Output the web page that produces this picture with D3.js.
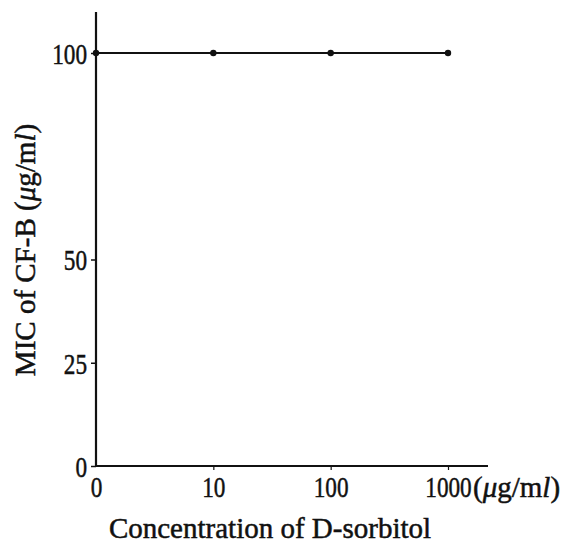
<!DOCTYPE html>
<html>
<head>
<meta charset="utf-8">
<script src="https://cdn.jsdelivr.net/npm/d3@7"></script>
<style>
  body { margin: 0; background: #fff; }
  svg { display: block; }
  text { font-family: "Liberation Serif", "DejaVu Serif", serif; fill: #111; }
</style>
</head>
<body>
<svg width="571" height="544"></svg>
<script>
// values
const concentrations = ['0', '10', '100', '1000'];   // D-sorbitol, ug/ml
const micValues = [100, 100, 100, 100];             // MIC of CF-B, ug/ml
const yTicks = [0, 25, 50, 100];

const svg = d3.select('svg');

const x0 = 96, x1 = 488;     // x axis extent
const yBase = 466, yTop = 12;

const xScale = d3.scalePoint()
  .domain(concentrations)
  .range([96, 448]);

const yScale = d3.scaleLinear()
  .domain([0, 100])
  .range([yBase, 53]);

// axes lines
svg.append('line')
  .attr('x1', x0).attr('x2', x0)
  .attr('y1', yTop).attr('y2', yBase)
  .attr('stroke', '#111').attr('stroke-width', 2.2);

svg.append('line')
  .attr('x1', x0).attr('x2', x1)
  .attr('y1', yBase).attr('y2', yBase)
  .attr('stroke', '#111').attr('stroke-width', 2.2);

// tick labels in the scan are narrow and tall
const squeeze = 0.8;
const styleTickText = sel => sel
  .attr('font-size', 29)
  .attr('font-family', '"Liberation Serif", serif')
  .attr('fill', '#111')
  .attr('stroke', '#111').attr('stroke-width', 0.5)
  .attr('transform', `scale(${squeeze},1)`);

// y ticks
const yAxis = d3.axisLeft(yScale)
  .tickValues(yTicks)
  .tickSize(5)
  .tickFormat(d3.format('d'));

const yAxisG = svg.append('g')
  .attr('transform', `translate(${x0},0)`)
  .call(yAxis);
yAxisG.select('.domain').remove();
yAxisG.selectAll('.tick line').attr('stroke', '#111').attr('stroke-width', 1.5);
yAxisG.selectAll('.tick text').call(styleTickText)
  .attr('x', -9 / squeeze)
  .attr('dy', '0.36em');

// x ticks
const xAxis = d3.axisBottom(xScale)
  .tickSize(4);

const xAxisG = svg.append('g')
  .attr('transform', `translate(0,${yBase})`)
  .call(xAxis);
xAxisG.select('.domain').remove();
xAxisG.selectAll('.tick line')
  .attr('stroke', '#111').attr('stroke-width', 1.2)
  .attr('opacity', (d, i) => i === 0 ? 0 : 1);
xAxisG.selectAll('.tick text').call(styleTickText)
  .attr('y', 31).attr('dy', 0);

// unit after the last label
svg.append('text')
  .attr('x', xScale('1000') + 25)
  .attr('y', 497)
  .attr('font-size', 29)
  .attr('stroke', '#111').attr('stroke-width', 0.5)
  .html('(<tspan font-style="italic">μ</tspan>g/m<tspan font-style="italic">l</tspan>)');

// data line and points
const line = d3.line()
  .x(d => xScale(d.c))
  .y(d => yScale(d.v));

const data = concentrations.map((c, i) => ({ c: c, v: micValues[i] }));

svg.append('path')
  .datum(data)
  .attr('d', line)
  .attr('fill', 'none')
  .attr('stroke', '#111')
  .attr('stroke-width', 2);

svg.selectAll('circle.pt')
  .data(data)
  .enter().append('circle')
    .attr('class', 'pt')
    .attr('cx', d => xScale(d.c))
    .attr('cy', d => yScale(d.v))
    .attr('r', 3.2)
    .attr('fill', '#111');

// axis titles
svg.append('text')
  .attr('x', 270)
  .attr('y', 538)
  .attr('text-anchor', 'middle')
  .attr('font-size', 29)
  .attr('stroke', '#111').attr('stroke-width', 0.5)
  .text('Concentration of D-sorbitol');

svg.append('text')
  .attr('transform', 'translate(35,250) rotate(-90)')
  .attr('text-anchor', 'middle')
  .attr('font-size', 29)
  .attr('stroke', '#111').attr('stroke-width', 0.5)
  .html('MIC of CF-B (<tspan font-style="italic">μ</tspan>g/m<tspan font-style="italic">l</tspan>)');
</script>
</body>
</html>
